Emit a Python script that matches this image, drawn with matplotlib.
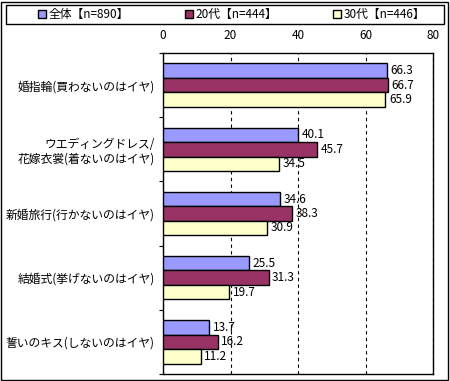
import numpy as np
import matplotlib.pyplot as plt
from matplotlib.patches import Rectangle

plt.rcParams['font.family'] = ['Noto Sans CJK JP', 'DejaVu Sans']

# データ
categories = ['婚指輪(買わないのはイヤ)', 'ウエディングドレス/\n花嫁衣裳(着ないのはイヤ)',
              '新婚旅行(行かないのはイヤ)', '結婚式(挙げないのはイヤ)', '誓いのキス(しないのはイヤ)']
series_names = ['全体【n=890】', '20代【n=444】', '30代【n=446】']
zentai = [66.3, 40.1, 34.6, 25.5, 13.7]
nijudai = [66.7, 45.7, 38.3, 31.3, 16.2]
sanjudai = [65.9, 34.5, 30.9, 19.7, 11.2]
colors = ['#9999FF', '#993366', '#FFFFCC']

fig = plt.figure(figsize=(4.5, 3.81), dpi=100)
ax = fig.add_axes([163 / 450, 1 - 374 / 381, 270 / 450, 321 / 381])

y = np.arange(len(categories))
h = 0.225
for i, (vals, name, c) in enumerate(zip([zentai, nijudai, sanjudai], series_names, colors)):
    pos = y + (i - 1) * h
    ax.barh(pos, vals, height=h, color=c, edgecolor='black', linewidth=1, label=name, zorder=3)
    for p, v in zip(pos, vals):
        ax.annotate(f'{v:.1f}', (v, p), xytext=(2.5, 0), textcoords='offset points',
                    va='center', ha='left', fontsize=8.5)

ax.set_xlim(0, 80)
ax.set_xticks([0, 20, 40, 60, 80])
ax.set_ylim(len(categories) - 0.5, -0.5)
ax.xaxis.tick_top()
ax.tick_params(axis='x', length=0, labelsize=8.5, pad=8)
ax.grid(axis='x', color='black', linestyle=(0, (3, 3)), linewidth=0.8, zorder=0)

# y軸：区切りの目盛と中央のラベル
ax.set_yticks(np.arange(len(categories) + 1) - 0.5)
ax.set_yticklabels([])
ax.tick_params(axis='y', which='major', length=3, direction='out')
ax.set_yticks(y, minor=True)
ax.set_yticklabels(categories, minor=True, fontsize=8.5)
ax.tick_params(axis='y', which='minor', length=0, pad=6)
for s in ax.spines.values():
    s.set_linewidth(1)

# 凡例（枠は別に描く）
fig.legend(loc='center', bbox_to_anchor=(231.5 / 450, 1 - 14.5 / 381), ncol=3, fontsize=8.5,
           frameon=False, handlelength=0.7, handleheight=0.7, handletextpad=0.2,
           columnspacing=4.7)
fig.patches.append(Rectangle((6 / 450, 1 - 24 / 381), 438 / 450, 19 / 381, transform=fig.transFigure,
                             fill=False, edgecolor='black', linewidth=1))

fig.patches.append(Rectangle((1 / 450, 1 / 381), 447 / 450, 378 / 381, transform=fig.transFigure,
                             fill=False, edgecolor='black', linewidth=1))

fig.savefig('out.png', dpi=100)
